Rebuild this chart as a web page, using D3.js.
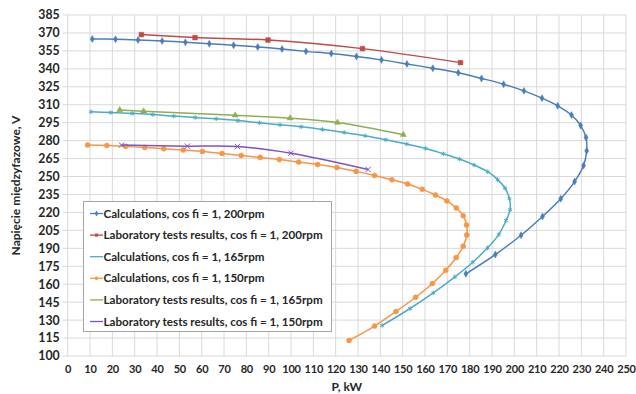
<!DOCTYPE html>
<html><head><meta charset="utf-8">
<script src="https://cdn.jsdelivr.net/npm/d3@7"></script>
<style>body{margin:0;background:#fff}svg{display:block}text{font-family:Lato,"Open Sans",sans-serif;font-weight:bold;fill:#262626}</style>
</head><body><svg id="c" width="636" height="394"></svg>
<script>
const xTicks = d3.range(0, 251, 10);
const yTicks = d3.range(100, 386, 15);

const calc200P = [11, 21.4, 31.5, 42.3, 52.7, 63.4, 74.3, 85.1, 96, 106.7, 118, 129.3, 140.5, 151.9, 163.5, 174.9, 185.3, 195.2, 204.3, 212.4, 219.4, 225.6, 229.7, 232.1, 232.4, 231, 227, 220.8, 212.6, 203, 191.5, 178.3];
const calc200V = [365, 364.7, 364.1, 363.3, 362.2, 361, 359.7, 358.3, 356.6, 354.6, 352.8, 350.4, 347.5, 344.1, 340.5, 336.7, 332, 327.2, 321.6, 315.5, 309.1, 301.4, 292.6, 282.6, 271.5, 259.2, 245.8, 231.5, 216.6, 200.9, 184.8, 168.7];

const lab200P = [33, 57, 89.7, 132, 175.9];
const lab200V = [368.6, 366.1, 364.1, 356.9, 345.2];

const calc165P = [10.4, 19.3, 28.9, 38.1, 47.5, 57.1, 66.5, 76.2, 85.9, 95.1, 104.6, 114.1, 123.8, 133.2, 142.5, 151.8, 160.3, 168.2, 175.4, 182, 188.1, 192.5, 195.8, 197.8, 198.1, 196.3, 193, 188, 181.4, 173.4, 163.7, 153.3, 140.8];
const calc165V = [304.1, 303.5, 302.7, 301.8, 300.5, 299.3, 298.2, 296.8, 294.9, 293.2, 291.6, 289.3, 286.8, 284, 280.7, 277.1, 273.5, 269, 264.6, 259.6, 254, 247.4, 240.4, 231.5, 222.3, 213.3, 201.5, 190.4, 178.4, 166.2, 152.8, 139.7, 125.5];

const calc150P = [8.9, 17.5, 26, 34.5, 43, 51.7, 60.3, 69.1, 77.7, 86.2, 94.8, 103.4, 111.9, 120.5, 129.2, 137.4, 145.2, 152.2, 158.8, 164.7, 169.8, 174, 177.1, 178.6, 178.7, 177.1, 174, 169.3, 163.3, 155.8, 147, 137.4, 126];
const calc150V = [276.3, 276, 275.2, 274.3, 273.2, 272.1, 271, 269.3, 267.6, 266, 264.3, 262.1, 260.1, 257.6, 254.3, 250.9, 247.3, 243.8, 239.3, 234.6, 229.6, 223.7, 217.3, 209.5, 201.2, 191.7, 182.3, 171.7, 160.6, 149.1, 137.2, 125, 113];

const lab165P = [23.3, 34, 75, 99.6, 120.8, 150.3];
const lab165V = [305.6, 304.6, 301.2, 298.8, 295.1, 284.9];

const lab150P = [24.1, 53.6, 76, 100, 134.5];
const lab150V = [276.3, 275.4, 275.1, 269.5, 255.9];

const seriesNames = [
  "Calculations, cos fi = 1, 200rpm",
  "Laboratory tests results, cos fi = 1, 200rpm",
  "Calculations, cos fi = 1, 165rpm",
  "Calculations, cos fi = 1, 150rpm",
  "Laboratory tests results, cos fi = 1, 165rpm",
  "Laboratory tests results, cos fi = 1, 150rpm"
];

const series = [
  {name: seriesNames[0], P: calc200P, V: calc200V, color: "#4A7EBB", sym: d3.symbolDiamond, size: 14, fill: true, legMark: true},
  {name: seriesNames[1], P: lab200P, V: lab200V, color: "#BE4B48", sym: d3.symbolSquare, size: 22, fill: true, legMark: true},
  {name: seriesNames[2], P: calc165P, V: calc165V, color: "#4BACC6", sym: d3.symbolAsterisk || d3.symbolCross, size: 14, fill: false, legMark: false},
  {name: seriesNames[3], P: calc150P, V: calc150V, color: "#F79646", sym: d3.symbolCircle, size: 20, fill: true, legMark: true},
  {name: seriesNames[4], P: lab165P, V: lab165V, color: "#8FAE50", sym: d3.symbolTriangle, size: 16, fill: true, legMark: false},
  {name: seriesNames[5], P: lab150P, V: lab150V, color: "#8152C4", sym: d3.symbolTimes || d3.symbolCross, size: 20, fill: false, legMark: false}
];

const svg = d3.select("#c");
const m = {l: 67.7, r: 10, t: 15, b: 38};
const W = 636, H = 394;
const x = d3.scaleLinear().domain([0, 250]).range([m.l, W - m.r]);
const y = d3.scaleLinear().domain([100, 385]).range([H - m.b, m.t]);

// grid
const g = svg.append("g");
g.selectAll("line.v").data(xTicks).join("line")
  .attr("x1", d => x(d)).attr("x2", d => x(d)).attr("y1", y(100)).attr("y2", y(385))
  .attr("stroke", "#d9d9d9").attr("stroke-width", 1);
g.selectAll("line.h").data(yTicks).join("line")
  .attr("y1", d => y(d)).attr("y2", d => y(d)).attr("x1", x(0) - 5).attr("x2", x(250))
  .attr("stroke", "#d9d9d9").attr("stroke-width", 1);

// axes (labels only)
const xa = svg.append("g").attr("transform", `translate(0,${y(100)})`)
  .call(d3.axisBottom(x).tickValues(xTicks).tickSize(0).tickPadding(9));
const ya = svg.append("g").attr("transform", `translate(${x(0) - 8},0)`)
  .call(d3.axisLeft(y).tickValues(yTicks).tickSize(0).tickPadding(0));
[xa, ya].forEach(a => {
  a.select(".domain").remove();
  a.selectAll("text").attr("font-family", "Lato").attr("font-weight", "bold").attr("fill", "#262626");
});
xa.selectAll("text").attr("font-size", 11).attr("letter-spacing", "-0.2px");
ya.selectAll("text").attr("font-size", 12.3);

svg.append("text").attr("x", (x(0) + x(250)) / 2).attr("y", 391).attr("text-anchor", "middle")
  .attr("font-size", 12).text("P, kW");
svg.append("text").attr("transform", `translate(20,${(y(100) + y(385)) / 2}) rotate(-90)`)
  .attr("text-anchor", "middle").attr("font-size", 12).text("Napięcie międzyfazowe, V");

// lines
const line = d3.line().x(d => x(d[0])).y(d => y(d[1])).curve(d3.curveCatmullRom.alpha(0.5));
series.forEach(s => {
  const pts = s.P.map((p, i) => [p, s.V[i]]);
  svg.append("path").attr("d", line(pts)).attr("fill", "none")
    .attr("stroke", s.color).attr("stroke-width", 1.5);
  svg.append("g").selectAll("path").data(pts).join("path")
    .attr("transform", d => `translate(${x(d[0])},${y(d[1])})`)
    .attr("d", d3.symbol().type(s.sym).size(s.size))
    .attr("fill", s.fill ? s.color : "none")
    .attr("stroke", s.color).attr("stroke-width", s.fill ? 0.5 : 1);
});

// legend
const lg = svg.append("g");
lg.append("rect").attr("x", 83.5).attr("y", 201.5).attr("width", 248).attr("height", 130)
  .attr("fill", "#fff").attr("stroke", "#a6a6a6").attr("stroke-width", 1);
series.forEach((s, i) => {
  const yy = 213.5 + i * 21.6;
  lg.append("line").attr("x1", 90).attr("x2", 103).attr("y1", yy).attr("y2", yy)
    .attr("stroke", s.color).attr("stroke-width", 1.3);
  if (s.legMark) {
    lg.append("path").attr("transform", `translate(96.5,${yy})`)
      .attr("d", d3.symbol().type(s.sym).size(10)).attr("fill", s.color);
  }
  lg.append("text").attr("x", 103.5).attr("y", yy).attr("dy", "0.35em")
    .attr("font-size", 11.6).text(s.name);
});
</script></body></html>
